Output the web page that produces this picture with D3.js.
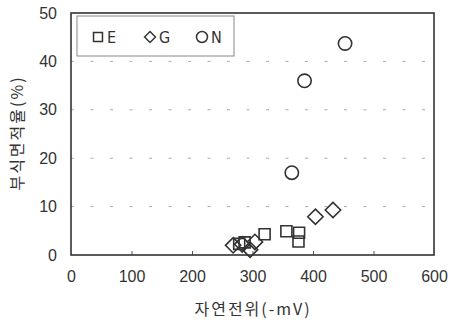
<!DOCTYPE html>
<meta charset="utf-8">
<style>
body { margin: 0; background: #fff; }
.tick text { font: 16px "Liberation Sans", Arial, sans-serif; fill: #333; }
.lbl { font: 16px "Noto Sans CJK KR", sans-serif; fill: #333; letter-spacing: 2px; }
</style>
<body>
<script src="https://d3js.org/d3.v7.min.js"></script>
<script>
// data: [potential (-mV), corroded area (%)]
var seriesE = [[278, 2.3], [287, 2.6], [320, 4.3], [356, 4.9], [377, 4.6], [376, 2.8]];
var seriesG = [[268, 2.0], [283, 2.2], [296, 1.1], [304, 2.7], [404, 7.9], [433, 9.3]];
var seriesN = [[365, 17], [386, 36], [453, 43.7]];
var xTicks = [0, 100, 200, 300, 400, 500, 600];
var yTicks = [0, 10, 20, 30, 40, 50];
var legendNames = ["E", "G", "N"];

var W = 454, H = 324;
var margin = {top: 13, right: 20, bottom: 69, left: 71};
var width = 434 - margin.left, height = 255 - margin.top;

var svg = d3.select("body").append("svg")
    .attr("width", W).attr("height", H);
var g = svg.append("g")
    .attr("transform", "translate(" + margin.left + "," + margin.top + ")");

var x = d3.scaleLinear().domain([0, 600]).range([0, width]);
var y = d3.scaleLinear().domain([0, 50]).range([height, 0]);

// dashed gridlines
g.selectAll(".grid").data(yTicks.filter(function(d) { return d > 0 && d < 50; }))
  .enter().append("line")
    .attr("x1", 0).attr("x2", width)
    .attr("y1", function(d) { return y(d); }).attr("y2", function(d) { return y(d); })
    .attr("stroke", "#aaa").attr("stroke-width", 1)
    .attr("stroke-dasharray", "3,16.5");

// axes
var xa = g.append("g").attr("transform", "translate(0," + height + ")")
    .call(d3.axisBottom(x).tickValues(xTicks).tickSize(-4).tickPadding(16));
xa.select(".domain").remove();
xa.selectAll("line").attr("stroke", "#555");
xa.selectAll(".tick").filter(function(d) { return d === 0 || d === 600; }).select("line").remove();

var ya = g.append("g")
    .call(d3.axisLeft(y).tickValues(yTicks).tickSize(0).tickPadding(14));
ya.select(".domain").remove();

// plot frame
g.append("rect").attr("width", width).attr("height", height)
    .attr("fill", "none").attr("stroke", "#333").attr("stroke-width", 1.6);

// markers
var sym = {
  E: d3.symbol().type(d3.symbolSquare).size(121),
  G: d3.symbol().type(d3.symbolDiamond2).size(150),
  N: d3.symbol().type(d3.symbolCircle).size(140)
};
var all = [["E", seriesE], ["G", seriesG], ["N", seriesN]];
all.forEach(function(s) {
  g.selectAll(".pt" + s[0]).data(s[1]).enter().append("path")
    .attr("d", sym[s[0]])
    .attr("transform", function(d) { return "translate(" + x(d[0]) + "," + y(d[1]) + ")"; })
    .attr("fill", "none").attr("stroke", "#333").attr("stroke-width", 1.6);
});

// legend
var lg = svg.append("g");
lg.append("rect").attr("x", 77).attr("y", 16).attr("width", 157).attr("height", 40)
    .attr("fill", "#fff").attr("stroke", "#888").attr("stroke-width", 1);
legendNames.forEach(function(n, i) {
  var lx = 98 + i * 52;
  lg.append("path").attr("d", d3.symbol().type(n === "E" ? d3.symbolSquare : n === "G" ? d3.symbolDiamond2 : d3.symbolCircle).size(n === "N" ? 95 : n === "G" ? 75 : 80))
    .attr("transform", "translate(" + lx + ",37)")
    .attr("fill", "none").attr("stroke", "#333").attr("stroke-width", 1.5);
  lg.append("text").attr("x", lx + 9).attr("y", 43)
    .style("font", "16px 'Liberation Sans Narrow', 'DejaVu Sans Condensed', sans-serif")
    .attr("fill", "#333").text(n);
});

// axis titles
svg.append("text").attr("class", "lbl").attr("x", 253).attr("y", 315)
    .attr("text-anchor", "middle").text("자연전위(-mV)");
svg.append("text").attr("class", "lbl")
    .attr("transform", "translate(23,133) rotate(-90)")
    .attr("text-anchor", "middle").text("부식면적율(%)");
</script>
</body>
